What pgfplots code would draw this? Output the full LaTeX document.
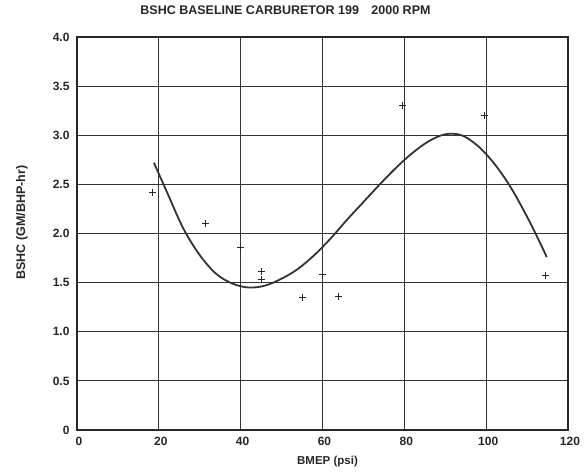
\documentclass[border=0pt]{standalone}
\usepackage{fontspec}
\setmainfont{Liberation Sans}
\usepackage{pgfplots}
\pgfplotsset{compat=1.18}
\usetikzlibrary{calc}
\begin{document}
\begin{tikzpicture}
\begin{axis}[
  scale only axis, width=491pt, height=393pt,
  xmin=0, xmax=120, ymin=0, ymax=4,
  xtick={0,20,40,60,80,100,120},
  xticklabels={0,20,40,60,80,100,120},
  ytick={0,0.5,1,1.5,2,2.5,3,3.5,4},
  yticklabels={0,0.5,1.0,1.5,2.0,2.5,3.0,3.5,4.0},
  grid=major,
  major grid style={black!80, line width=0.9pt},
  axis line style={black!85, line width=1.1pt},
  tick style={draw=none},
  ticklabel style={font=\bfseries\fontsize{12}{14}\selectfont, text=black!85},
  xticklabel style={yshift=-4pt, xshift=2pt},
  yticklabel style={xshift=-4pt},
  xlabel={BMEP (psi)},
  ylabel={BSHC (GM/BHP-hr)},
  xlabel style={at={(axis description cs:0.5,0)}, anchor=center, yshift=-32pt, xshift=5pt, font=\bfseries\fontsize{11.5}{13}\selectfont, text=black!85},
  ylabel style={at={(axis description cs:-0.112,0.528)}, anchor=center, font=\bfseries\fontsize{12.5}{14}\selectfont, text=black!85},
  title={BSHC BASELINE CARBURETOR 199\quad 2000 RPM},
  title style={at={(axis description cs:0.5,1)}, anchor=center, yshift=21pt, xshift=-37pt, font=\bfseries\fontsize{12.5}{14}\selectfont, text=black!85},
]
\addplot[black!80, line width=1.8pt, smooth, tension=0.55] coordinates {
  (18.8,2.72) (22,2.42) (26,2.05) (30,1.78) (34,1.59) (38,1.49) (42,1.45)
  (46,1.47) (50,1.54) (54,1.64) (58,1.78) (62,1.95) (66,2.14) (70,2.32)
  (74,2.50) (78,2.67) (82,2.82) (86,2.94) (90,3.01) (94,3.00) (98,2.89)
  (102,2.71) (106,2.47) (110,2.17) (113,1.92) (114.8,1.76)
};
\addplot[only marks, mark=+, mark size=3.5pt, mark options={line width=0.9pt, black!85}] coordinates {
  (18.5,2.42) (31.5,2.10) (40,1.86) (45,1.61) (45,1.53) (55,1.35)
  (60,1.58) (64,1.36) (79.5,3.30) (99.5,3.20) (114.5,1.57)
};
\end{axis}
\pgfresetboundingbox
\path ($(current axis.south west)+(-77pt,-43pt)$) rectangle ($(current axis.north east)+(16pt,37pt)$);
\end{tikzpicture}
\end{document}
